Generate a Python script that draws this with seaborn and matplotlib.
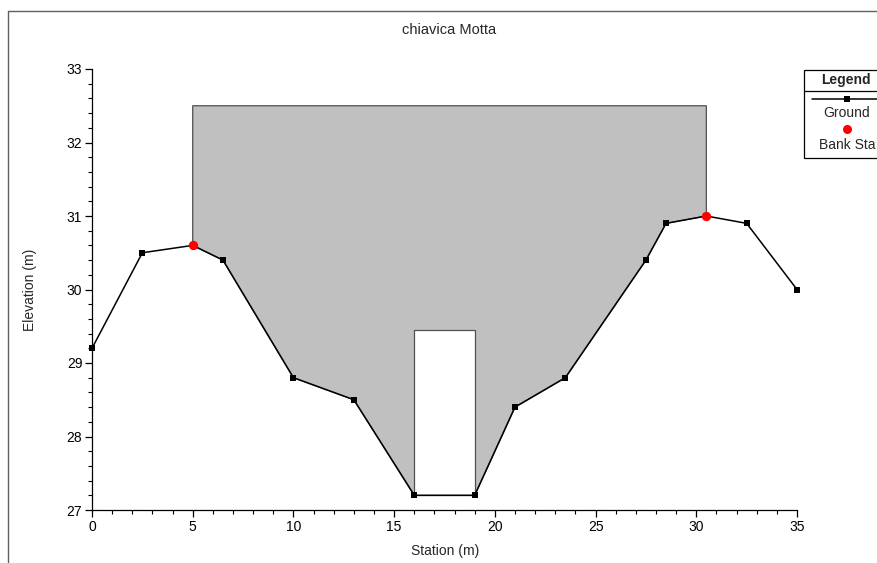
import matplotlib
matplotlib.use("Agg")
import matplotlib.pyplot as plt
from matplotlib.lines import Line2D
from matplotlib.patches import Rectangle
from matplotlib.ticker import MultipleLocator
import seaborn as sns
import pandas as pd

station = [0, 2.5, 5, 6.5, 10, 13, 16, 19, 21, 23.5, 27.5, 28.5, 30.5, 32.5, 35]
elevation = [29.2, 30.5, 30.6, 30.4, 28.8, 28.5, 27.2, 27.2, 28.4, 28.8, 30.4, 30.9, 31.0, 30.9, 30.0]
bank_station = [5, 30.5]
bank_elev = [30.6, 31.0]
deck_top = 32.5
culvert_left, culvert_right = 16, 19
culvert_top, culvert_bottom = 29.45, 27.2

sns.set_theme(style="white")
plt.rcParams['font.family'] = ['Liberation Sans', 'DejaVu Sans']

fig = plt.figure(figsize=(8.78, 5.63), dpi=100)
ax = fig.add_axes([92/878, 1-510/563, (797-92)/878, (510-69)/563])

# deck / road fill polygon
bl, br = bank_station
inner = [(s, e) for s, e in zip(station, elevation) if bl <= s <= br]
poly = [(bl, deck_top), (br, deck_top)] + inner[::-1]
xs = [p[0] for p in poly] + [poly[0][0]]
ys = [p[1] for p in poly] + [poly[0][1]]
ax.fill(xs, ys, facecolor="#c0c0c0", edgecolor="#505050", linewidth=0.9, zorder=1)
ax.add_patch(Rectangle((culvert_left, culvert_bottom), culvert_right-culvert_left,
                       culvert_top-culvert_bottom, facecolor="white",
                       edgecolor="#505050", linewidth=0.9, zorder=2))

df = pd.DataFrame({"Station": station, "Elevation": elevation})
sns.lineplot(data=df, x="Station", y="Elevation", ax=ax, color="black",
             linewidth=1.1, marker="s", markersize=5, markeredgewidth=0,
             sort=False, zorder=3, clip_on=False)
sns.scatterplot(x=bank_station, y=bank_elev, ax=ax, color="red", s=45,
                linewidth=0, zorder=4, clip_on=False)

ax.set_xlim(0, 35)
ax.set_ylim(27, 33)
ax.xaxis.set_major_locator(MultipleLocator(5))
ax.xaxis.set_minor_locator(MultipleLocator(1))
ax.yaxis.set_major_locator(MultipleLocator(1))
ax.yaxis.set_minor_locator(MultipleLocator(0.2))
for s in ["top", "right"]:
    ax.spines[s].set_visible(False)
for s in ["left", "bottom"]:
    ax.spines[s].set_color("black")
    ax.spines[s].set_linewidth(0.9)
ax.tick_params(which="major", direction="out", length=5, width=0.9, colors="black",
               labelsize=10, left=True, bottom=True, pad=2)
ax.tick_params(which="minor", direction="out", length=3, width=0.8, colors="black",
               left=True, bottom=True)
ax.set_xlabel("")
ax.set_ylabel("")

fig.text(445/878, 1-551/563, "Station (m)", ha="center", va="center", fontsize=10)
fig.text(30/878, 1-290/563, "Elevation (m)", ha="center", va="center", rotation=90, fontsize=10)
fig.text(449/878, 1-30/563, "chiavica Motta", ha="center", va="center", fontsize=10.5)

# outer frame
fig.add_artist(Line2D([8/878, 8/878], [0, 1-11/563], transform=fig.transFigure, color="#606060", lw=1))
fig.add_artist(Line2D([8/878, 1], [1-11/563, 1-11/563], transform=fig.transFigure, color="#606060", lw=1))

# legend box (clipped by figure edge)
fig.add_artist(Rectangle((804/878, 1-158/563), 100/878, 88/563, transform=fig.transFigure,
                         facecolor="white", edgecolor="black", lw=0.9))
fig.add_artist(Line2D([804/878, 1], [1-91/563, 1-91/563], transform=fig.transFigure, color="black", lw=0.9))
fig.text(846/878, 1-80/563, "Legend", ha="center", va="center", fontsize=10, fontweight="bold")
fig.add_artist(Line2D([812/878, 1], [1-99/563, 1-99/563], transform=fig.transFigure, color="black", lw=1.1))
fig.add_artist(Line2D([847/878], [1-99/563], transform=fig.transFigure, color="black",
                      marker="s", markersize=5, markeredgewidth=0, lw=0))
fig.text(847/878, 1-113/563, "Ground", ha="center", va="center", fontsize=10)
fig.add_artist(Line2D([847/878], [1-129/563], transform=fig.transFigure, color="red",
                      marker="o", markersize=6.5, markeredgewidth=0, lw=0))
fig.text(876/878, 1-145/563, "Bank Sta", ha="right", va="center", fontsize=10)

fig.savefig("out.png", dpi=100)
